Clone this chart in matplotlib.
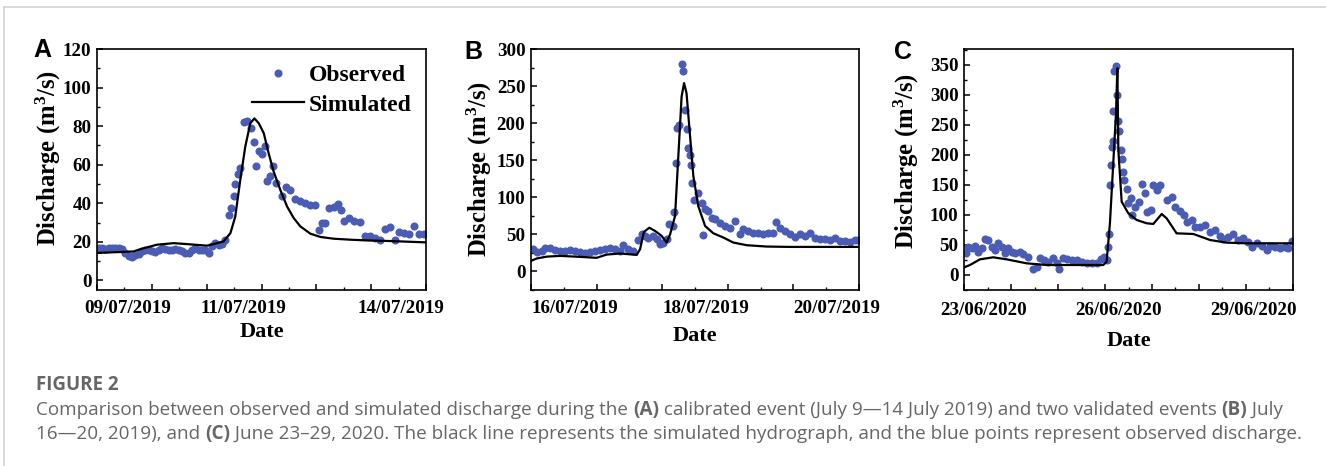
import matplotlib
matplotlib.use("Agg")
import matplotlib.pyplot as plt
from matplotlib.lines import Line2D
from matplotlib.ticker import MultipleLocator

plt.rcParams['font.family'] = ['Liberation Serif', 'DejaVu Serif']
plt.rcParams['font.weight'] = 'bold'
plt.rcParams['mathtext.fontset'] = 'custom'
plt.rcParams['mathtext.rm'] = 'Liberation Serif:bold'
plt.rcParams['mathtext.bf'] = 'Liberation Serif:bold'
plt.rcParams['mathtext.default'] = 'bf'

# ---------------- Panel A : 09/07/2019 - 14/07/2019 (hours from 08/07 12:00)
a_obs_t = [0.7, 2.2, 3.6, 5.1, 6.6, 8.0, 9.5, 10.9, 12.4, 13.9, 15.3, 16.8, 18.2, 19.7, 21.2,
           22.6, 24.1, 25.5, 27.0, 28.5, 29.9, 31.4, 32.8, 34.3, 35.7, 37.2, 38.7, 40.1, 41.6,
           43.0, 44.5, 46.0, 47.4, 48.9, 50.3, 51.8, 53.3, 54.7, 56.2, 57.6, 58.7, 59.8, 60.5,
           61.6, 62.7, 64.2, 65.7, 67.4, 68.6, 69.7, 70.8, 72.2, 73.7, 74.4, 75.6, 77.0, 78.5,
           81.0, 82.9, 84.6, 86.8, 89.0, 91.2, 93.4, 95.6, 97.0, 98.5, 99.9, 101.4, 103.6, 105.3,
           106.8, 108.3, 110.2, 112.3, 115.3, 117.4, 119.6, 121.8, 124.0, 126.2, 128.4, 130.6,
           132.0, 134.2, 136.4, 138.6, 140.8, 143.0]
a_obs_q = [17, 17, 16.5, 17, 16.8, 17, 17, 16.5, 14, 12.5, 12, 13, 13.5, 15, 16,
           15.5, 15, 14.5, 16, 17, 16.5, 15.5, 16, 16.5, 15.5, 15, 14, 14, 16,
           17, 16, 15.5, 16, 14, 18, 19.5, 18.5, 19, 21, 34, 37.5, 43.5, 50,
           55, 58.5, 82, 82.5, 79, 72, 59.5, 67, 65.5, 69.5, 51.5, 54, 59.5, 50.5,
           43.5, 48.5, 47, 42, 41, 40, 39, 39, 26, 30, 30, 37.5, 38, 39.5,
           36.5, 31, 32.5, 31, 30.5, 23, 23, 22, 21, 26.5, 27.5, 21,
           25, 24.5, 24, 28, 24, 24]
a_sim_t = [0, 16, 19, 26.3, 33.6, 39.4, 48.1, 51, 55.4, 58.4, 60.5, 62.7, 64.9, 67.1, 68.9,
           70.8, 73.0, 75.1, 77.3, 80.2, 83.2, 86.1, 89.0, 93.4, 97.8, 103.6, 110.9, 118.2,
           125.5, 132.8, 144]
a_sim_q = [14.2, 15, 16.2, 18.5, 19.3, 18.8, 18, 18.8, 20.2, 24.5, 33, 52, 69.4, 81.5, 84,
           81.5, 76.3, 66, 56.5, 47, 38.3, 32.3, 28, 24.2, 22.5, 21.6, 21.1, 20.7,
           20.5, 20.2, 19.7]
a_labels = ["09/07/2019", "11/07/2019", "14/07/2019"]
a_label_t = [13.3, 63.9, 133.0]

# ---------------- Panel B : 16/07/2019 - 20/07/2019 (hours from 15/07 12:00)
b_obs_t = [0.9, 2.1, 3.9, 5.1, 7.0, 8.8, 10.6, 12.4, 14.3, 16.1, 17.9, 19.8, 21.6, 23.4, 25.2,
           27.1, 28.9, 30.7, 32.6, 33.8, 35.6, 37.4, 39.3, 40.5, 41.7, 42.9, 44.8, 46.0, 47.2,
           48.4, 49.6, 50.6, 51.8, 52.4, 53.0, 53.5, 54.3, 55.1, 55.7, 56.3, 56.9, 57.6, 58.2,
           58.4, 59.0, 59.8, 61.2, 62.4, 63.0, 63.7, 64.9, 66.1, 67.3, 69.1, 71.0, 72.8, 74.6,
           76.5, 77.7, 79.5, 81.3, 83.2, 85.0, 86.8, 88.7, 89.6, 91.1, 92.9, 94.8, 96.6, 98.4,
           100.2, 102.1, 103.9, 105.7, 107.6, 109.4, 111.2, 113.0, 114.9, 116.7, 118.5, 119.8]
b_obs_q = [30, 26.4, 27.8, 32, 31, 29, 27.8, 27.8, 28.7, 27.8, 26.4, 24.6, 26.4, 27.8, 29,
           30, 32, 30, 27.8, 35.4, 30, 27.8, 42.5, 50, 48, 45.7, 48, 44.3, 36.7,
           39, 43.4, 63.6, 61.3, 80, 146.4, 193.4, 198, 279.4, 270.5, 218, 192, 166.6, 157.6,
           144.2, 119.6, 96.3, 105.2, 92.7, 48.8, 83.7, 81.5, 72.5, 70.3, 65.8, 61.3, 59.1, 68,
           50.2, 56.9, 54.6, 52.4, 51.5, 50.2, 52.4, 51.5, 66.7, 59.1, 54.6, 50.2, 47, 50.2,
           48, 52.4, 45.7, 43.4, 44.3, 42.5, 45.7, 41.2, 41.2, 39.9, 42.5, 42]
b_sim_t = [0, 2.1, 5.7, 10.6, 17.9, 24, 27.7, 32.6, 38.7, 39.9, 41.3, 43.3, 45.4, 47.8, 49.6,
           50.9, 52.7, 53.9, 55.1, 56.0, 56.9, 58.2, 59.4, 61.2, 63.7, 66.7, 70.4, 74.0, 78.9,
           86.2, 94.8, 107, 120]
b_sim_q = [14.3, 17.5, 20, 21, 19.7, 18.4, 22.8, 24.2, 22.4, 30, 53.3, 59, 54.6, 48, 39,
           50.2, 74.8, 155.4, 236, 254, 240.5, 182.3, 128.5, 88.2, 61.3, 51.5, 45.7, 39, 35.4,
           33.6, 33.1, 33.1, 33.1]
b_labels = ["16/07/2019", "18/07/2019", "20/07/2019"]
b_label_t = [16.1, 63.9, 112.0]

# ---------------- Panel C : 23/06/2020 - 29/06/2020 (hours from axis start)
c_obs_t = [0.9, 2, 3.8, 5.5, 7.2, 8.9, 10.6, 12.3, 14, 15.7, 17.4, 19.1, 20.8, 22.5, 24.2,
           25.9, 28.5, 30.2, 32.7, 35.3, 37, 38.7, 40.8, 43, 45.2, 47.2, 48.6, 50.3, 52.4,
           54.9, 57.5, 60, 62.6, 65.2, 67.7, 69.8, 71.5, 72.8, 73.5, 74.2, 74.5, 74.9, 75.4,
           75.9, 76.2, 76.8, 77.6, 77.9, 78.6, 79.3, 80, 80.5, 81, 81.9, 83.1, 83.9, 85.1,
           85.8, 87.3, 89.5, 90.7, 92.4, 93.6, 95.3, 96.4, 98.4, 100.1, 103.5, 106.1, 107.8,
           110.4, 112.4, 113.8, 116.3, 118, 120.6, 123.1, 125.7, 128.3, 130.8, 132.5, 135.1,
           137.6, 140.2, 142.8, 145.3, 147, 149.6, 152.1, 154.7, 156.4, 159, 161.5, 164.1,
           165.8, 167.5]
c_obs_q = [36, 47, 44.4, 48.3, 38.8, 44.4, 59.4, 58.2, 47, 41.6, 52.7, 47, 36, 44.4, 38.8,
           37.2, 38.8, 35, 29.4, 9.4, 12.8, 27.7, 25, 22.2, 27.7, 19.4, 9.4, 27.7, 26,
           25, 25, 22.2, 19.4, 19.4, 19.4, 26, 30.5, 25, 46, 68.2, 149.2, 183, 213.5,
           223.5, 273.5, 340, 347.8, 299.5, 256.8, 240.2, 208, 192.5, 172, 158.1, 142.6, 119.3, 127.6,
           99.8, 113.7, 122, 151.4, 135.9, 105.4, 108.2, 149.8, 141.4, 149.8, 124.8, 130.4, 113.7,
           107.1, 99.8, 88.8, 91.5, 80.4, 79.3, 83.2, 72.1, 74.9, 64.9, 59.4, 63.8,
           68.2, 58.2, 61, 55.5, 47, 52.7, 48.3, 41.6, 48.3, 47, 44.4, 47,
           44.4, 57]
c_sim_t = [0, 2.9, 8, 14.8, 21.7, 31.9, 42.1, 52.4, 62.6, 71.1, 72.8, 74.5, 76.2, 77.6, 78.3,
           78.8, 80.5, 83.9, 88.2, 93.3, 96.7, 101, 103.5, 108.6, 117.2, 125.7, 134.2, 144.5,
           158.1, 168]
c_sim_q = [12.8, 16.6, 26, 29.4, 26, 19.4, 16.6, 16.6, 16.6, 16.6, 22.2, 86, 185.8, 269, 344,
           208, 122, 102.6, 91.5, 86, 84.9, 101.5, 94.3, 69.3, 68.2, 58.2, 53.8, 52.7,
           52.7, 52.7]
c_labels = ["23/06/2020", "26/06/2020", "29/06/2020"]
c_label_t = [9.7, 79.1, 148.2]

panels = [
    dict(letter="A", obs_t=a_obs_t, obs_q=a_obs_q, sim_t=a_sim_t, sim_q=a_sim_q,
         labels=a_labels, label_t=a_label_t, xlim=(0, 144), ylim=(-5, 120), ymaj=20,
         left=97, right=426, ylab_xy=(-0.103, 0.548), xlab_y=-0.175, date_y=-0.075,
         letter_xy=(42, 50), legend=True),
    dict(letter="B", obs_t=b_obs_t, obs_q=b_obs_q, sim_t=b_sim_t, sim_q=b_sim_q,
         labels=b_labels, label_t=b_label_t, xlim=(0, 120), ylim=(-25, 300), ymaj=50,
         left=531, right=859, ylab_xy=(-0.113, 0.502), xlab_y=-0.19, date_y=-0.075,
         letter_xy=(473, 52), legend=False),
    dict(letter="C", obs_t=c_obs_t, obs_q=c_obs_q, sim_t=c_sim_t, sim_q=c_sim_q,
         labels=c_labels, label_t=c_label_t, xlim=(0, 168), ylim=(-25, 376), ymaj=50,
         left=964.3, right=1292.7, ylab_xy=(-0.132, 0.535), xlab_y=-0.21, date_y=-0.083,
         letter_xy=(903, 52), legend=False),
]

W, H = 1326, 466
fig = plt.figure(figsize=(W / 100, H / 100), dpi=100)
fig.patch.set_facecolor("white")

top_px, bot_px = 49, 290
obs_color = "#4a5cb3"

for p in panels:
    ax = fig.add_axes([p["left"] / W, 1 - bot_px / H, (p["right"] - p["left"]) / W,
                       (bot_px - top_px) / H])
    ax.plot(p["obs_t"], p["obs_q"], linestyle="none", marker="o", markersize=5.8,
            color=obs_color, markeredgewidth=0, label="Observed", zorder=2)
    ax.plot(p["sim_t"], p["sim_q"], color="black", linewidth=1.6, label="Simulated", zorder=3)
    ax.set_xlim(*p["xlim"])
    ax.set_ylim(*p["ylim"])
    ax.xaxis.set_major_locator(MultipleLocator(24))
    ax.xaxis.set_minor_locator(MultipleLocator(12))
    ax.yaxis.set_major_locator(MultipleLocator(p["ymaj"]))
    ax.yaxis.set_minor_locator(MultipleLocator(p["ymaj"] / 2))
    ax.tick_params(axis="both", which="major", direction="in", length=4.5, width=1.1,
                   top=False, right=False)
    ax.tick_params(axis="both", which="minor", direction="in", length=2.5, width=1.0,
                   top=False, right=False)
    ax.tick_params(axis="x", which="both", labelbottom=False)
    ax.tick_params(axis="y", which="major", labelsize=13.7, pad=4)
    for lab in ax.get_yticklabels():
        lab.set_fontweight("bold")
    for s in ax.spines.values():
        s.set_linewidth(1.2)
    for t, lab in zip(p["label_t"], p["labels"]):
        ax.text(t, p["date_y"], lab, transform=ax.get_xaxis_transform(), ha="center",
                va="center", fontsize=13.7, fontweight="bold")
    ax.text(0.5 * (p["xlim"][0] + p["xlim"][1]), p["xlab_y"], "Date",
            transform=ax.get_xaxis_transform(), ha="center", va="center",
            fontsize=16, fontweight="bold")
    ax.set_ylabel(r"Discharge (m$^{3}$/s)", fontsize=17.8, fontweight="bold")
    ax.yaxis.set_label_coords(*p["ylab_xy"])
    fig.text(p["letter_xy"][0] / W, 1 - p["letter_xy"][1] / H, p["letter"],
             fontsize=18, fontweight="bold", family=["Liberation Sans", "DejaVu Sans"],
             ha="center", va="center")
    if p["legend"]:
        ax.legend(loc="upper right", frameon=False, handlelength=2.2,
                  handletextpad=0.2, borderaxespad=0.2, labelspacing=0.35,
                  bbox_to_anchor=(1.0, 0.995), markerscale=1.0,
                  prop=dict(family="Liberation Serif", weight="bold", size=17))

# light grey frame of the figure page
fig.add_artist(Line2D([4 / W, 1], [1 - 7 / H, 1 - 7 / H], transform=fig.transFigure,
                      color="#d4d4d4", linewidth=1.2))
fig.add_artist(Line2D([4 / W, 4 / W], [0, 1 - 7 / H], transform=fig.transFigure,
                      color="#d4d4d4", linewidth=1.2))

# caption
cap_color = "#666666"
cap_font = ["Open Sans", "DejaVu Sans"]
cap_size = 13.6
cap_x0 = 36
fig.text(cap_x0 / W, 1 - 385 / H, "FIGURE 2", fontsize=13.5, fontweight="bold",
         family=cap_font, color=cap_color, va="center", ha="left")

cap_lines = [
    [("Comparison between observed and simulated discharge during the ", "normal"),
     ("(A)", "bold"),
     (" calibrated event (July 9\u201414 July 2019) and two validated events ", "normal"),
     ("(B)", "bold"), (" July", "normal")],
    [("16\u201420, 2019), and ", "normal"), ("(C)", "bold"),
     (" June 23\u201329, 2020. The black line represents the simulated hydrograph, "
      "and the blue points represent observed discharge.", "normal")],
]
cap_y = [410, 434]
renderer = fig.canvas.get_renderer()
for line, yy in zip(cap_lines, cap_y):
    x = cap_x0
    for txt, wt in line:
        t = fig.text(x / W, 1 - yy / H, txt, fontsize=cap_size, fontweight=wt,
                     family=cap_font, color=cap_color, va="center", ha="left")
        bb = t.get_window_extent(renderer=renderer)
        x += bb.width

fig.savefig("out.png", dpi=100, facecolor="white")
